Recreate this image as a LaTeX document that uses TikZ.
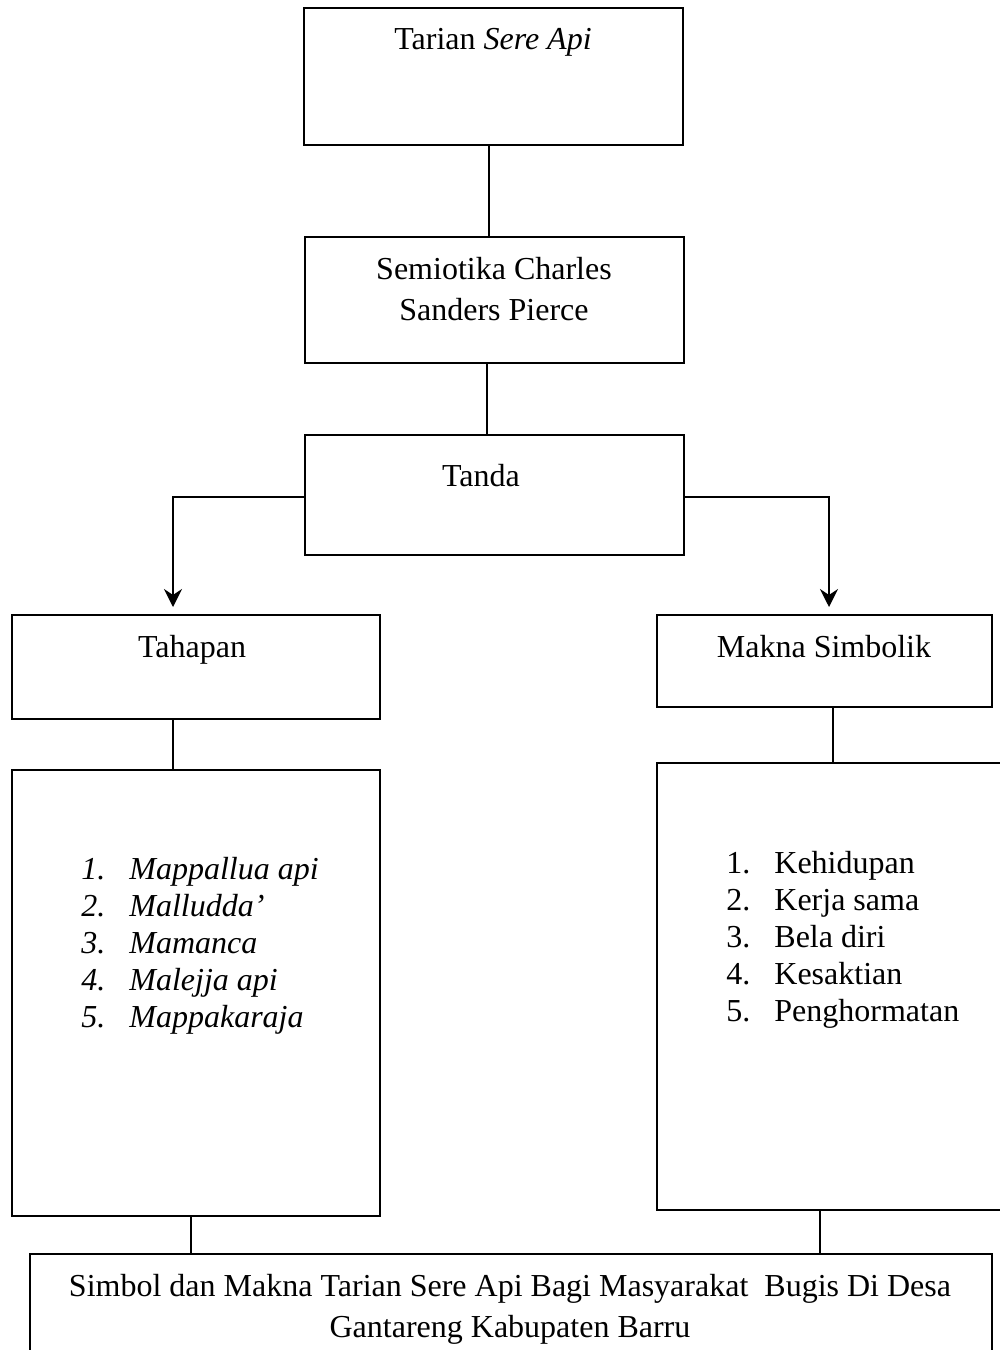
\documentclass[tikz,border=0pt]{standalone}
\usepackage{fontspec}
\setmainfont{Liberation Serif}
\usetikzlibrary{arrows.meta}
\tikzset{
  box/.style={draw, line width=1.1pt, inner sep=0pt},
  conn/.style={line width=0.8pt},
  arr/.style={line width=1.2pt, -{Stealth[length=9pt,width=9pt,inset=3pt]}},
  txt/.style={inner sep=0pt, font=\fontsize{16}{18.5}\selectfont},
  twoline/.style={txt, align=center, font=\fontsize{16}{20.5}\selectfont},
}
\begin{document}
\begin{tikzpicture}[x=0.5pt,y=-0.5pt]
\useasboundingbox (0,0) rectangle (1000,1350);
% boxes
\node[box, minimum width=189.5pt, minimum height=68.5pt] (b1) at (493.5,76.5) {};
\node[box, minimum width=189.5pt, minimum height=63pt] (b2) at (494.5,300) {};
\node[box, minimum width=189.5pt, minimum height=60pt] (b3) at (494.5,495) {};
\node[box, minimum width=184pt, minimum height=52pt] (tah) at (196,667) {};
\node[box, minimum width=184pt, minimum height=223pt] (tahl) at (196,993) {};
\node[box, minimum width=167.5pt, minimum height=46pt] (mak) at (824.5,661) {};
\node[box, minimum width=180pt, minimum height=223.5pt] (makl) at (837,986.5) {};
\node[box, minimum width=481pt, minimum height=56pt] (fin) at (511,1310) {};
% texts
\node[txt, anchor=base] (t1) at (493,49) {Tarian \textit{Sere Api}};
\node[twoline, anchor=north] (t2) at (494,257) {Semiotika Charles\\Sanders Pierce};
\node[txt, anchor=base] (t3) at (481,486) {Tanda};
\node[txt, anchor=base] (t4) at (192,657) {Tahapan};
\node[txt, anchor=base] (t5) at (824,657) {Makna Simbolik};
\node[txt, anchor=north west, align=left] (l1) at (81,857) {%
\makebox[24pt][l]{\textit{1.}}\textit{Mappallua api}\\
\makebox[24pt][l]{\textit{2.}}\textit{Malludda’}\\
\makebox[24pt][l]{\textit{3.}}\textit{Mamanca}\\
\makebox[24pt][l]{\textit{4.}}\textit{Malejja api}\\
\makebox[24pt][l]{\textit{5.}}\textit{Mappakaraja}};
\node[txt, anchor=north west, align=left] (l2) at (726,851) {%
\makebox[24pt][l]{1.}Kehidupan\\
\makebox[24pt][l]{2.}Kerja sama\\
\makebox[24pt][l]{3.}Bela diri\\
\makebox[24pt][l]{4.}Kesaktian\\
\makebox[24pt][l]{5.}Penghormatan};
\node[twoline, anchor=north] (t6) at (510,1274) {Simbol dan Makna Tarian Sere Api Bagi Masyarakat~ Bugis Di Desa\\Gantareng Kabupaten Barru};
% connectors
\draw[conn] (b1.south -| 489,0) -- (b2.north -| 489,0);
\draw[conn] (b2.south -| 487,0) -- (b3.north -| 487,0);
\draw[arr] (b3.west |- 0,497) -| (173,607);
\draw[arr] (b3.east |- 0,497) -| (829,607);
\draw[conn] (tah.south -| 173,0) -- (tahl.north -| 173,0);
\draw[conn] (mak.south -| 833,0) -- (makl.north -| 833,0);
\draw[conn] (tahl.south -| 191,0) -- (fin.north -| 191,0);
\draw[conn] (makl.south -| 820,0) -- (fin.north -| 820,0);
\end{tikzpicture}
\end{document}
